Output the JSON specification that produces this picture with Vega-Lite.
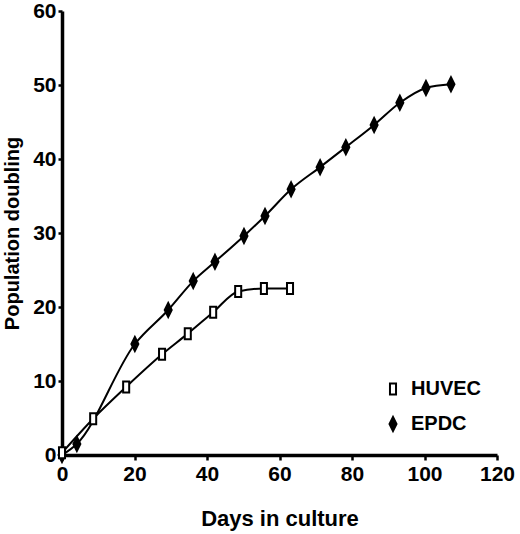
{
  "$schema": "https://vega.github.io/schema/vega-lite/v6.json",
  "width": 435,
  "height": 444,
  "autosize": {"type": "none"},
  "padding": {"left": 62, "top": 11, "right": 23, "bottom": 79},
  "background": "white",
  "data": {
    "values": [
      {"series": "EPDC", "day": 0, "doubling": 0},
      {"series": "EPDC", "day": 4.1, "doubling": 1.5},
      {"series": "EPDC", "day": 20.1, "doubling": 15},
      {"series": "EPDC", "day": 29.3, "doubling": 19.6},
      {"series": "EPDC", "day": 36.2, "doubling": 23.5},
      {"series": "EPDC", "day": 42.2, "doubling": 26.1},
      {"series": "EPDC", "day": 50.2, "doubling": 29.6},
      {"series": "EPDC", "day": 56, "doubling": 32.3},
      {"series": "EPDC", "day": 63.2, "doubling": 35.9},
      {"series": "EPDC", "day": 71.2, "doubling": 38.9},
      {"series": "EPDC", "day": 78.3, "doubling": 41.6},
      {"series": "EPDC", "day": 86.1, "doubling": 44.6},
      {"series": "EPDC", "day": 93.2, "doubling": 47.6},
      {"series": "EPDC", "day": 100.4, "doubling": 49.6},
      {"series": "EPDC", "day": 107.3, "doubling": 50.1},
      {"series": "HUVEC", "day": 0, "doubling": 0.3},
      {"series": "HUVEC", "day": 8.6, "doubling": 4.9},
      {"series": "HUVEC", "day": 17.7, "doubling": 9.2},
      {"series": "HUVEC", "day": 27.6, "doubling": 13.6},
      {"series": "HUVEC", "day": 34.7, "doubling": 16.4},
      {"series": "HUVEC", "day": 41.7, "doubling": 19.3},
      {"series": "HUVEC", "day": 48.6, "doubling": 22.1},
      {"series": "HUVEC", "day": 55.7, "doubling": 22.5},
      {"series": "HUVEC", "day": 62.9, "doubling": 22.5}
    ]
  },
  "encoding": {
    "x": {
      "field": "day",
      "type": "quantitative",
      "scale": {"domain": [0, 120], "nice": false, "zero": false},
      "axis": {"values": [0, 20, 40, 60, 80, 100, 120], "title": "Days in culture", "titlePadding": 24, "titleFontSize": 22}
    },
    "y": {
      "field": "doubling",
      "type": "quantitative",
      "scale": {"domain": [0, 60], "nice": false},
      "axis": {"values": [0, 10, 20, 30, 40, 50, 60], "title": "Population doubling", "titlePadding": 10, "titleFontSize": 20, "tickSize": 4, "labelPadding": 2}
    }
  },
  "layer": [
    {
      "mark": {"type": "line", "interpolate": "monotone", "color": "black", "strokeWidth": 2},
      "encoding": {"detail": {"field": "series", "type": "nominal"}}
    },
    {
      "mark": {"type": "point", "filled": true, "strokeWidth": 2, "opacity": 1, "fillOpacity": 1, "strokeOpacity": 1},
      "encoding": {
        "shape": {
          "field": "series",
          "type": "nominal",
          "scale": {
            "domain": ["HUVEC", "EPDC"],
            "range": ["M-0.55,-1H0.55V1H-0.55Z", "M0,-1L0.5,0L0,1L-0.5,0Z"]
          },
          "legend": {"title": null}
        },
        "fill": {
          "field": "series",
          "type": "nominal",
          "scale": {"domain": ["HUVEC", "EPDC"], "range": ["white", "black"]},
          "legend": {"title": null}
        },
        "stroke": {
          "field": "series",
          "type": "nominal",
          "scale": {"domain": ["HUVEC", "EPDC"], "range": ["black", "black"]},
          "legend": {"title": null}
        },
        "size": {
          "field": "series",
          "type": "nominal",
          "scale": {"domain": ["HUVEC", "EPDC"], "range": [121, 196]},
          "legend": {"title": null}
        }
      }
    }
  ],
  "config": {
    "font": "Liberation Sans",
    "view": {"stroke": null},
    "axis": {
      "grid": false,
      "domainColor": "black",
      "domainWidth": 3.5,
      "tickColor": "black",
      "tickWidth": 2.5,
      "tickSize": 5,
      "labelFont": "Liberation Sans",
      "labelFontSize": 21,
      "labelFontWeight": "bold",
      "labelColor": "black",
      "labelPadding": 3,
      "labelFlush": false,
      "labelOverlap": false,
      "titleFont": "Liberation Sans",
      "titleFontSize": 21,
      "titleFontWeight": "bold",
      "titleColor": "black"
    },
    "legend": {
      "orient": "none",
      "legendX": 321,
      "legendY": 368,
      "padding": 0,
      "labelFont": "Liberation Sans",
      "labelFontSize": 20,
      "labelFontWeight": "bold",
      "labelColor": "black",
      "labelOffset": 8,
      "rowPadding": 14,
      "symbolStrokeWidth": 2
    }
  }
}
